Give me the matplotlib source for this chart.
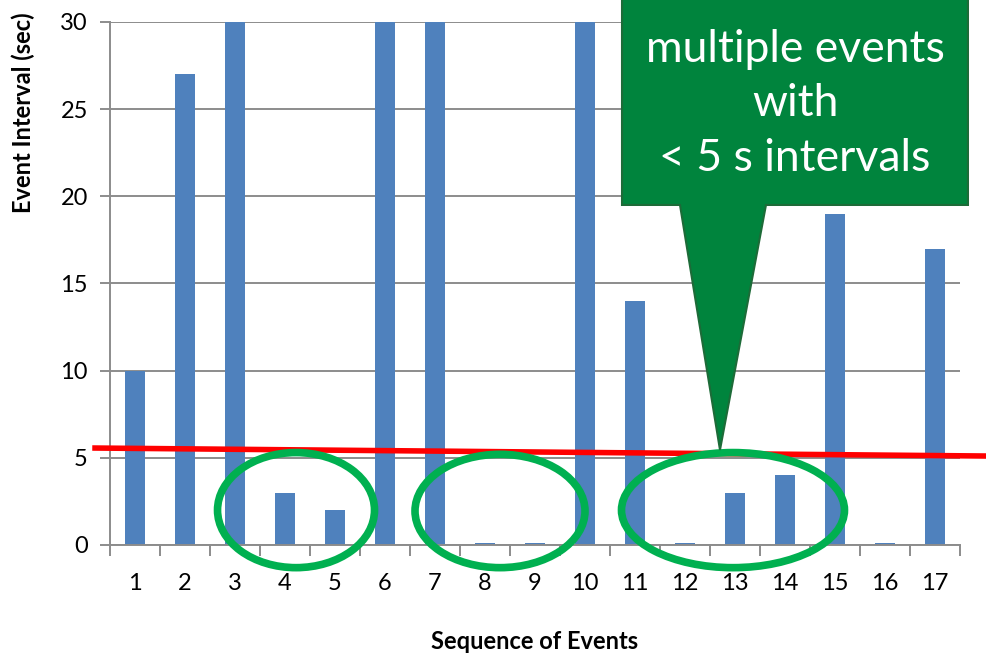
import matplotlib.pyplot as plt
from matplotlib.patches import Ellipse, Polygon

plt.rcParams["font.family"] = ["Lato", "DejaVu Sans"]

# Daten
events = list(range(1, 18))
intervals = [10, 27, 30, 3, 2, 30, 30, 0.1, 0.1, 30, 14, 0.1, 3, 4, 19, 0.1, 17]
yticks = [0, 5, 10, 15, 20, 25, 30]

callout_text = "multiple events\nwith\n< 5 s intervals"

# Markierungen (Kreise um kurze Intervalle)
ellipses = [(4.22, 2.0, 3.14, 6.6), (8.3, 1.95, 3.4, 6.5), (12.96, 2.0, 4.46, 6.6)]

fig = plt.figure(figsize=(9.86, 6.63), dpi=100)
ax = fig.add_axes([0.1116, 0.178, 0.862, 0.789])

ax.bar(events, intervals, width=0.4, color="#4F81BD", zorder=2)

ax.set_xlim(0.5, 17.5)
ax.set_ylim(0, 30)
ax.set_yticks(yticks)
ax.set_xticks(events)
ax.set_xticks([e + 0.5 for e in [0] + events], minor=True)
ax.grid(axis="y", color="#8c8c8c", linewidth=1.4, zorder=0)

for s in ["top", "right"]:
    ax.spines[s].set_visible(False)
for s in ["left", "bottom"]:
    ax.spines[s].set_color("#8c8c8c")
    ax.spines[s].set_linewidth(1.4)

ax.tick_params(axis="y", length=7, width=1.4, color="#8c8c8c", pad=9, labelsize=17)
ax.tick_params(axis="x", which="major", length=0, pad=20, labelsize=17)
ax.tick_params(axis="x", which="minor", length=8, width=1.4, color="#8c8c8c")

ax.set_xlabel("Sequence of Events", fontsize=17, fontweight="bold", labelpad=26)
ax.set_ylabel("Event Interval (sec)", fontsize=17, fontweight="bold")
ax.yaxis.set_label_coords(-0.088, 0.826)

# rote Schwellenlinie
ax.plot([0.2, 18.1], [5.56, 5.1], color="#ff0000", linewidth=4, clip_on=False, zorder=4)

for cx, cy, w, h in ellipses:
    ax.add_patch(Ellipse((cx, cy), w, h, fill=False, edgecolor="#00B050",
                         linewidth=5.5, clip_on=False, zorder=5))

# Sprechblase
blase = Polygon([(10.74, 32), (17.66, 32), (17.66, 19.5), (13.62, 19.5),
                 (12.7, 5.45), (11.9, 19.5), (10.74, 19.5)],
                closed=True, facecolor="#00843D", edgecolor="#1d6b38",
                linewidth=1.5, clip_on=False, zorder=6)
ax.add_patch(blase)
ax.text(14.2, 25.3, callout_text, ha="center", va="center", color="white",
        fontsize=32, linespacing=1.4, zorder=7)

fig.savefig("out.png", dpi=100)
